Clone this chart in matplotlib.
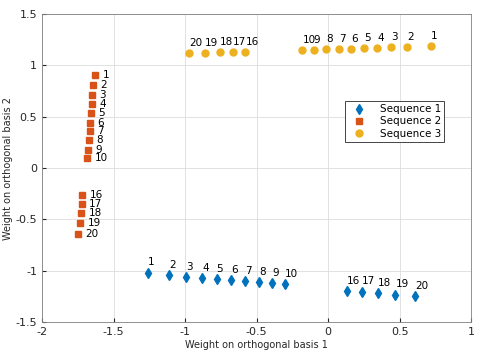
import numpy as np
import matplotlib
matplotlib.use('Agg')
import matplotlib.pyplot as plt

# point indices (11-15 are absent)
idx = [1, 2, 3, 4, 5, 6, 7, 8, 9, 10, 16, 17, 18, 19, 20]

seq1_x = [-1.26, -1.11, -0.99, -0.88, -0.78, -0.68, -0.58, -0.48, -0.39, -0.30,
          0.133, 0.238, 0.350, 0.471, 0.611]
seq1_y = [-1.02, -1.04, -1.06, -1.07, -1.08, -1.09, -1.10, -1.11, -1.12, -1.13,
          -1.200, -1.205, -1.219, -1.234, -1.251]

seq2_x = [-1.628, -1.642, -1.647, -1.651, -1.656, -1.661, -1.665, -1.672, -1.679, -1.684,
          -1.717, -1.721, -1.726, -1.733, -1.745]
seq2_y = [0.908, 0.808, 0.717, 0.626, 0.538, 0.444, 0.357, 0.269, 0.181, 0.097,
          -0.261, -0.352, -0.442, -0.534, -0.647]

seq3_x = [0.717, 0.552, 0.438, 0.345, 0.254, 0.163, 0.075, -0.016, -0.100, -0.179,
          -0.578, -0.664, -0.759, -0.860, -0.974]
seq3_y = [1.186, 1.179, 1.176, 1.169, 1.166, 1.162, 1.159, 1.156, 1.152, 1.149,
          1.133, 1.130, 1.127, 1.123, 1.117]

xticks = [-2, -1.5, -1, -0.5, 0, 0.5, 1]
yticks = [-1.5, -1, -0.5, 0, 0.5, 1, 1.5]

fig = plt.figure(figsize=(4.8, 3.6), dpi=100)
ax = fig.add_axes([0.0875, 0.1056, 0.894, 0.855])

ax.plot(seq1_x, seq1_y, 'd', color='#0072BD', markersize=5, label='Sequence 1')
ax.plot(seq2_x, seq2_y, 's', color='#D95319', markersize=4, label='Sequence 2')
ax.plot(seq3_x, seq3_y, 'o', color='#EDB120', markersize=5, label='Sequence 3')

for i, n in enumerate(idx):
    ax.text(seq1_x[i], seq1_y[i] + 0.1, str(n), fontsize=7.5, va='center', ha='left')
    ax.text(seq2_x[i] + 0.05, seq2_y[i], str(n), fontsize=7.5, va='center', ha='left')
    ax.text(seq3_x[i], seq3_y[i] + 0.1, str(n), fontsize=7.5, va='center', ha='left')

ax.set_xlim(-2, 1)
ax.set_ylim(-1.5, 1.5)
ax.set_xticks(xticks)
ax.set_xticklabels([('%g' % t) for t in xticks])
ax.set_yticks(yticks)
ax.set_yticklabels([('%g' % t) for t in yticks])
ax.tick_params(direction='in', labelsize=8, colors='#262626', length=3)
ax.grid(True, color='#dcdcdc', linewidth=0.6)
ax.set_axisbelow(True)
for s in ax.spines.values():
    s.set_color('#808080')
    s.set_linewidth(0.6)

ax.set_xlabel('Weight on orthogonal basis 1', fontsize=7, color='#262626', labelpad=2)
ax.set_ylabel('Weight on orthogonal basis 2', fontsize=7, color='#262626', labelpad=2)

leg = ax.legend(loc='upper right', bbox_to_anchor=(0.949, 0.734), fontsize=7.5,
                fancybox=False, edgecolor='#262626', framealpha=1,
                borderpad=0.3, labelspacing=0.2, handletextpad=1.0)
leg.get_frame().set_linewidth(0.6)

fig.savefig('out.png', dpi=100)
